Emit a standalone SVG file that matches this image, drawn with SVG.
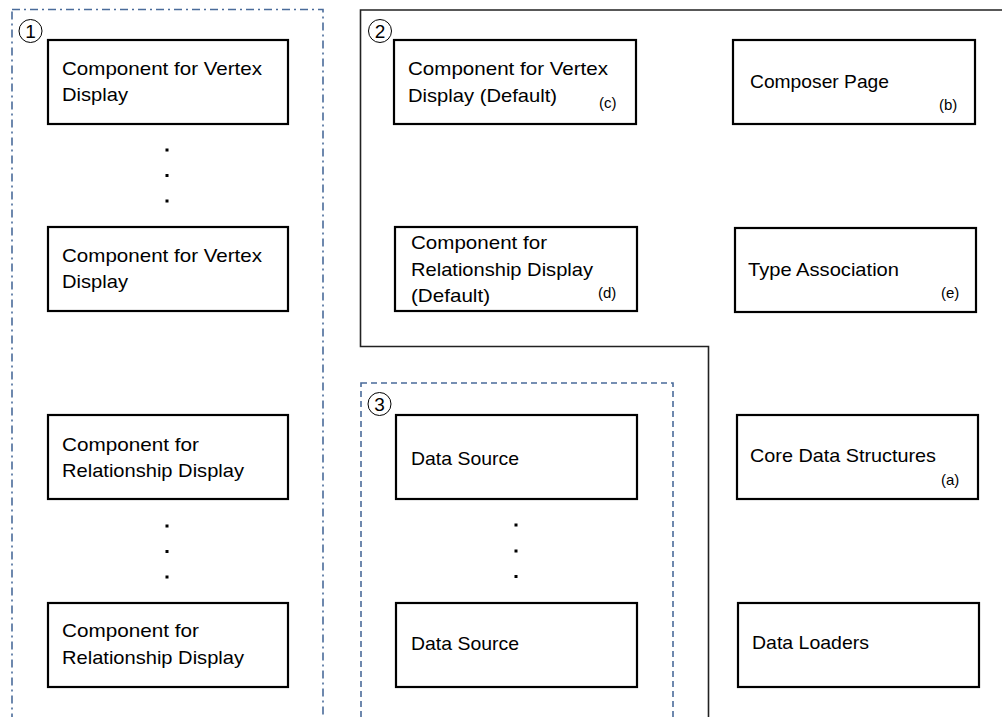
<svg xmlns="http://www.w3.org/2000/svg" width="1002" height="717" viewBox="0 0 1002 717">
<style>
.box{fill:#fff;stroke:#000;stroke-width:2.2}
.t{font-family:"Liberation Sans",Arial,sans-serif;font-size:19px;fill:#000}
.s{font-family:"Liberation Sans",Arial,sans-serif;font-size:15px;fill:#000}
.num{font-family:"Liberation Sans",Arial,sans-serif;font-size:19px;fill:#000;text-anchor:middle}
.circ{fill:none;stroke:#000;stroke-width:1}
.dot{fill:#000}
</style>
<rect width="1002" height="717" fill="#fff"/>
<g id="regions">
<rect id="region1" x="12" y="9.5" width="311" height="720" fill="none" stroke="#4a6b9a" stroke-width="1.6" stroke-dasharray="8 4 2 4"/>
<path id="region2" d="M1010 10 H360.5 V346.5 H708.5 V720" fill="none" stroke="#222" stroke-width="1.6"/>
<rect id="region3" x="361" y="383" width="312" height="350" fill="none" stroke="#4a6b9a" stroke-width="1.6" stroke-dasharray="6 4"/>
<g id="label1"><circle class="circ" cx="30.5" cy="31" r="11.5"/><text class="num" x="30.5" y="38">1</text></g>
<g id="label2"><circle class="circ" cx="380" cy="31" r="11.5"/><text class="num" x="380" y="38">2</text></g>
<g id="label3"><circle class="circ" cx="379.5" cy="404" r="11.5"/><text class="num" x="379.5" y="411">3</text></g>
</g>
<g id="connectors"></g>
<g id="n1"><rect class="box" x="48" y="40" width="240" height="84"/><text class="t" x="62" y="75" textLength="200" lengthAdjust="spacingAndGlyphs">Component for Vertex</text><text class="t" x="62" y="101" textLength="66" lengthAdjust="spacingAndGlyphs">Display</text></g>
<g id="dots1"><rect class="dot" x="165.5" y="148.5" width="3" height="3"/><rect class="dot" x="165.5" y="174" width="3" height="3"/><rect class="dot" x="165.5" y="199.5" width="3" height="3"/></g>
<g id="n2"><rect class="box" x="48" y="227" width="240" height="84"/><text class="t" x="62" y="262" textLength="200" lengthAdjust="spacingAndGlyphs">Component for Vertex</text><text class="t" x="62" y="288" textLength="66" lengthAdjust="spacingAndGlyphs">Display</text></g>
<g id="n3"><rect class="box" x="48" y="415" width="240" height="84"/><text class="t" x="62" y="451" textLength="137" lengthAdjust="spacingAndGlyphs">Component for</text><text class="t" x="62" y="477" textLength="182" lengthAdjust="spacingAndGlyphs">Relationship Display</text></g>
<g id="dots2"><rect class="dot" x="165.5" y="524.5" width="3" height="3"/><rect class="dot" x="165.5" y="550" width="3" height="3"/><rect class="dot" x="165.5" y="575.5" width="3" height="3"/></g>
<g id="n4"><rect class="box" x="48" y="603" width="240" height="84"/><text class="t" x="62" y="637" textLength="137" lengthAdjust="spacingAndGlyphs">Component for</text><text class="t" x="62" y="664" textLength="182" lengthAdjust="spacingAndGlyphs">Relationship Display</text></g>
<g id="nc"><rect class="box" x="394" y="40" width="242" height="84"/><text class="t" x="408" y="75" textLength="200" lengthAdjust="spacingAndGlyphs">Component for Vertex</text><text class="t" x="408" y="102" textLength="149" lengthAdjust="spacingAndGlyphs">Display (Default)</text><text class="s" x="599" y="108">(c)</text></g>
<g id="nd"><rect class="box" x="395" y="227" width="242" height="84"/><text class="t" x="411" y="249" textLength="136" lengthAdjust="spacingAndGlyphs">Component for</text><text class="t" x="411" y="276" textLength="182" lengthAdjust="spacingAndGlyphs">Relationship Display</text><text class="t" x="411" y="302" textLength="79" lengthAdjust="spacingAndGlyphs">(Default)</text><text class="s" x="598" y="298">(d)</text></g>
<g id="nb"><rect class="box" x="733" y="40" width="242" height="84"/><text class="t" x="750" y="88" textLength="139" lengthAdjust="spacingAndGlyphs">Composer Page</text><text class="s" x="939" y="110">(b)</text></g>
<g id="ne"><rect class="box" x="735" y="228" width="241" height="84"/><text class="t" x="748" y="276" textLength="151" lengthAdjust="spacingAndGlyphs">Type Association</text><text class="s" x="941" y="298">(e)</text></g>
<g id="ds1"><rect class="box" x="396" y="415" width="241" height="84"/><text class="t" x="411" y="465" textLength="108" lengthAdjust="spacingAndGlyphs">Data Source</text></g>
<g id="dots3"><rect class="dot" x="514.5" y="523.5" width="3" height="3"/><rect class="dot" x="514.5" y="549.5" width="3" height="3"/><rect class="dot" x="514.5" y="575" width="3" height="3"/></g>
<g id="ds2"><rect class="box" x="396" y="603" width="241" height="84"/><text class="t" x="411" y="650" textLength="108" lengthAdjust="spacingAndGlyphs">Data Source</text></g>
<g id="na"><rect class="box" x="737" y="415" width="241" height="84"/><text class="t" x="750" y="462" textLength="186" lengthAdjust="spacingAndGlyphs">Core Data Structures</text><text class="s" x="941" y="485">(a)</text></g>
<g id="nl"><rect class="box" x="738" y="603" width="241" height="84"/><text class="t" x="752" y="649" textLength="117" lengthAdjust="spacingAndGlyphs">Data Loaders</text></g>
</svg>
